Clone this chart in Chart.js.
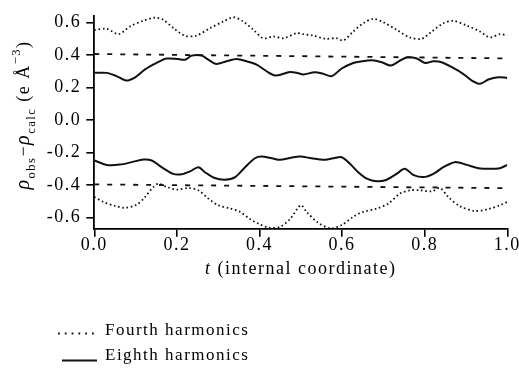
<!DOCTYPE html>
<html>
<head>
<meta charset="utf-8">
<script src="https://cdn.jsdelivr.net/npm/chart.js@4"></script>
<style>
  html, body { margin: 0; padding: 0; background: #fff; }
  #wrap { width: 519px; height: 374px; }
</style>
</head>
<body>
<div id="wrap"><canvas id="density-chart" width="519" height="374"></canvas></div>
<script>
// Tick labels
const xTicks = [0, 0.2, 0.4, 0.6, 0.8, 1.0]
const yTicks = [-0.6, -0.4, -0.2, 0, 0.2, 0.4, 0.6]

// Fourth harmonics, upper curve (dotted)
const fourthUpperT = [0, 0.03, 0.059, 0.086, 0.119, 0.147, 0.167, 0.192, 0.22, 0.248, 0.28, 0.312, 0.337, 0.361, 0.385, 0.409, 0.434, 0.458, 0.49, 0.506, 0.53, 0.559, 0.587, 0.603, 0.627, 0.651, 0.676, 0.7, 0.732, 0.764, 0.793, 0.817, 0.845, 0.869, 0.902, 0.934, 0.958, 0.982, 1.0]
const fourthUpperV = [0.552, 0.56, 0.527, 0.574, 0.61, 0.629, 0.615, 0.564, 0.517, 0.519, 0.564, 0.604, 0.631, 0.604, 0.554, 0.502, 0.513, 0.502, 0.533, 0.527, 0.519, 0.499, 0.502, 0.488, 0.543, 0.594, 0.621, 0.6, 0.554, 0.507, 0.499, 0.543, 0.594, 0.609, 0.58, 0.543, 0.507, 0.527, 0.519]

// Fourth harmonics, lower curve (dotted)
const fourthLowerT = [0, 0.022, 0.05, 0.074, 0.103, 0.123, 0.143, 0.155, 0.175, 0.2, 0.228, 0.252, 0.276, 0.3, 0.329, 0.353, 0.377, 0.401, 0.425, 0.45, 0.474, 0.5, 0.514, 0.539, 0.571, 0.599, 0.627, 0.651, 0.684, 0.712, 0.74, 0.764, 0.789, 0.817, 0.837, 0.857, 0.885, 0.922, 0.954, 0.982, 1.0]
const fourthLowerV = [-0.474, -0.505, -0.529, -0.541, -0.521, -0.474, -0.413, -0.393, -0.413, -0.429, -0.419, -0.433, -0.484, -0.525, -0.545, -0.566, -0.61, -0.643, -0.664, -0.657, -0.61, -0.525, -0.566, -0.627, -0.667, -0.647, -0.596, -0.566, -0.545, -0.515, -0.454, -0.433, -0.433, -0.44, -0.419, -0.474, -0.531, -0.56, -0.549, -0.525, -0.505]

// Eighth harmonics, upper curve (solid)
const eighthUpperT = [0, 0.03, 0.054, 0.077, 0.099, 0.123, 0.151, 0.175, 0.203, 0.22, 0.236, 0.26, 0.276, 0.295, 0.32, 0.345, 0.369, 0.393, 0.417, 0.438, 0.458, 0.474, 0.494, 0.506, 0.534, 0.554, 0.575, 0.599, 0.627, 0.647, 0.672, 0.696, 0.718, 0.74, 0.758, 0.781, 0.801, 0.821, 0.841, 0.869, 0.893, 0.914, 0.934, 0.954, 0.978, 1.0]
const eighthUpperV = [0.289, 0.289, 0.269, 0.242, 0.262, 0.31, 0.35, 0.377, 0.374, 0.37, 0.395, 0.395, 0.37, 0.344, 0.36, 0.374, 0.36, 0.34, 0.299, 0.273, 0.283, 0.295, 0.287, 0.279, 0.293, 0.283, 0.269, 0.316, 0.35, 0.36, 0.366, 0.354, 0.334, 0.364, 0.385, 0.377, 0.35, 0.36, 0.354, 0.319, 0.283, 0.242, 0.222, 0.248, 0.262, 0.258]

// Eighth harmonics, lower curve (solid)
const eighthLowerT = [0, 0.03, 0.062, 0.091, 0.119, 0.139, 0.163, 0.191, 0.212, 0.232, 0.252, 0.268, 0.29, 0.316, 0.341, 0.365, 0.389, 0.405, 0.43, 0.45, 0.474, 0.498, 0.526, 0.554, 0.579, 0.599, 0.619, 0.639, 0.66, 0.684, 0.708, 0.732, 0.752, 0.772, 0.797, 0.821, 0.845, 0.873, 0.902, 0.93, 0.958, 0.982, 1.0]
const eighthLowerV = [-0.25, -0.277, -0.275, -0.26, -0.244, -0.25, -0.291, -0.332, -0.334, -0.317, -0.291, -0.322, -0.356, -0.368, -0.352, -0.291, -0.236, -0.226, -0.236, -0.246, -0.234, -0.226, -0.236, -0.246, -0.236, -0.23, -0.27, -0.322, -0.362, -0.378, -0.368, -0.332, -0.301, -0.338, -0.352, -0.332, -0.291, -0.26, -0.277, -0.297, -0.301, -0.297, -0.277]

// Reference levels (dashed)
const levelT = [0, 1.0]
const upperLevelV = [0.405, 0.378]
const lowerLevelV = [-0.397, -0.42]

const ink = '#000'
const serif = '"Liberation Serif", "Times New Roman", serif'
const spacing = '1.5px'

function pairs(ts, vs) {
    return ts.map((t, i) => ({x: t, y: vs[i]}))
}

function curve(ts, vs, dash, width) {
    return {
        data: pairs(ts, vs),
        borderColor: '#111',
        borderWidth: width,
        borderDash: dash,
        pointRadius: 0,
        tension: 0.3,
        fill: false
    }
}

// Draw a sequence of text runs (for sub/superscripts) centred on cx
function drawRuns(ctx, runs, cx, baseline) {
    let total = 0
    runs.forEach(r => {
        ctx.font = `${r.italic ? 'italic ' : ''}${r.size}px ${serif}`
        r.w = ctx.measureText(r.text).width
        total += r.w
    })
    let x = cx - total / 2
    runs.forEach(r => {
        ctx.font = `${r.italic ? 'italic ' : ''}${r.size}px ${serif}`
        ctx.fillText(r.text, x, baseline + (r.dy || 0))
        x += r.w
    })
}

const textPlugin = {
    id: 'textPlugin',
    beforeLayout(chart) {
        chart.ctx.letterSpacing = spacing
    },
    beforeDraw(chart) {
        const ctx = chart.ctx
        ctx.letterSpacing = spacing
        ctx.save()
        ctx.fillStyle = '#fff'
        ctx.fillRect(0, 0, chart.width, chart.height)
        ctx.restore()
    },
    afterDraw(chart) {
        const ctx = chart.ctx
        const area = chart.chartArea
        ctx.save()
        ctx.fillStyle = ink
        ctx.textAlign = 'left'
        ctx.textBaseline = 'alphabetic'

        // x axis title
        drawRuns(ctx, [
            {text: 't', size: 18, italic: true},
            {text: ' (internal coordinate)', size: 18}
        ], (area.left + area.right) / 2, 274)

        // y axis title, rotated
        ctx.save()
        ctx.translate(29, 115)
        ctx.rotate(-Math.PI / 2)
        drawRuns(ctx, [
            {text: 'ρ', size: 20, italic: true},
            {text: 'obs', size: 12.5, dy: 6},
            {text: '−', size: 18},
            {text: 'ρ', size: 20, italic: true},
            {text: 'calc', size: 12.5, dy: 6},
            {text: ' (e Å', size: 18},
            {text: '−3', size: 12.5, dy: -9},
            {text: ')', size: 18}
        ], 0, 0)
        ctx.restore()

        // legend
        const sets = chart.data.datasets
        const rows = [
            {label: 'Fourth harmonics', width: 2, dash: [1.8, 5], x0: 58, y: 333.5, base: 335},
            {label: 'Eighth harmonics', width: sets[2].borderWidth, dash: sets[2].borderDash, x0: 62, y: 360.5, base: 360}
        ]
        rows.forEach(row => {
            ctx.strokeStyle = '#111'
            ctx.lineWidth = row.width
            ctx.setLineDash(row.dash)
            ctx.beginPath()
            ctx.moveTo(row.x0, row.y)
            ctx.lineTo(97, row.y)
            ctx.stroke()
            ctx.font = `17px ${serif}`
            ctx.fillText(row.label, 105, row.base)
        })
        ctx.restore()
    }
}

const tickFont = {family: serif, size: 18}

const densityChart = new Chart(document.getElementById('density-chart'), {
    type: 'line',
    data: {
        datasets: [
            curve(fourthUpperT, fourthUpperV, [1.6, 2.7], 1.8),
            curve(fourthLowerT, fourthLowerV, [1.6, 2.7], 1.8),
            curve(eighthUpperT, eighthUpperV, [], 2),
            curve(eighthLowerT, eighthLowerV, [], 2),
            curve(levelT, upperLevelV, [5, 8], 1.8),
            curve(levelT, lowerLevelV, [5, 8], 1.8)
        ]
    },
    options: {
        responsive: false,
        animation: false,
        devicePixelRatio: 1,
        layout: {
            padding: {left: 0, top: 14.2, right: 11.7, bottom: 0}
        },
        scales: {
            x: {
                type: 'linear',
                min: 0,
                max: 1,
                grid: {
                    drawOnChartArea: false,
                    drawTicks: true,
                    tickLength: 8,
                    color: ink,
                    lineWidth: 1.6
                },
                border: {display: true, color: ink, width: 1.8},
                ticks: {
                    font: tickFont,
                    color: ink,
                    padding: -2,
                    maxRotation: 0,
                    callback: v => v.toFixed(1)
                },
                afterBuildTicks: s => { s.ticks = xTicks.map(v => ({value: v})) },
                afterFit: s => {
                    s.height = 145.2
                    s.paddingLeft = 0
                    s.paddingRight = 0
                }
            },
            y: {
                type: 'linear',
                min: -0.67,
                max: 0.64,
                grid: {
                    drawOnChartArea: false,
                    drawTicks: true,
                    tickLength: 8,
                    color: ink,
                    lineWidth: 1.6
                },
                border: {display: true, color: ink, width: 1.8},
                ticks: {
                    font: tickFont,
                    color: ink,
                    padding: 5,
                    callback: v => v.toFixed(1)
                },
                afterBuildTicks: s => { s.ticks = yTicks.map(v => ({value: v})) },
                afterFit: s => { s.width = 94.3 }
            }
        },
        plugins: {
            legend: {display: false},
            tooltip: {enabled: false}
        }
    },
    plugins: [textPlugin]
})
</script>
</body>
</html>
